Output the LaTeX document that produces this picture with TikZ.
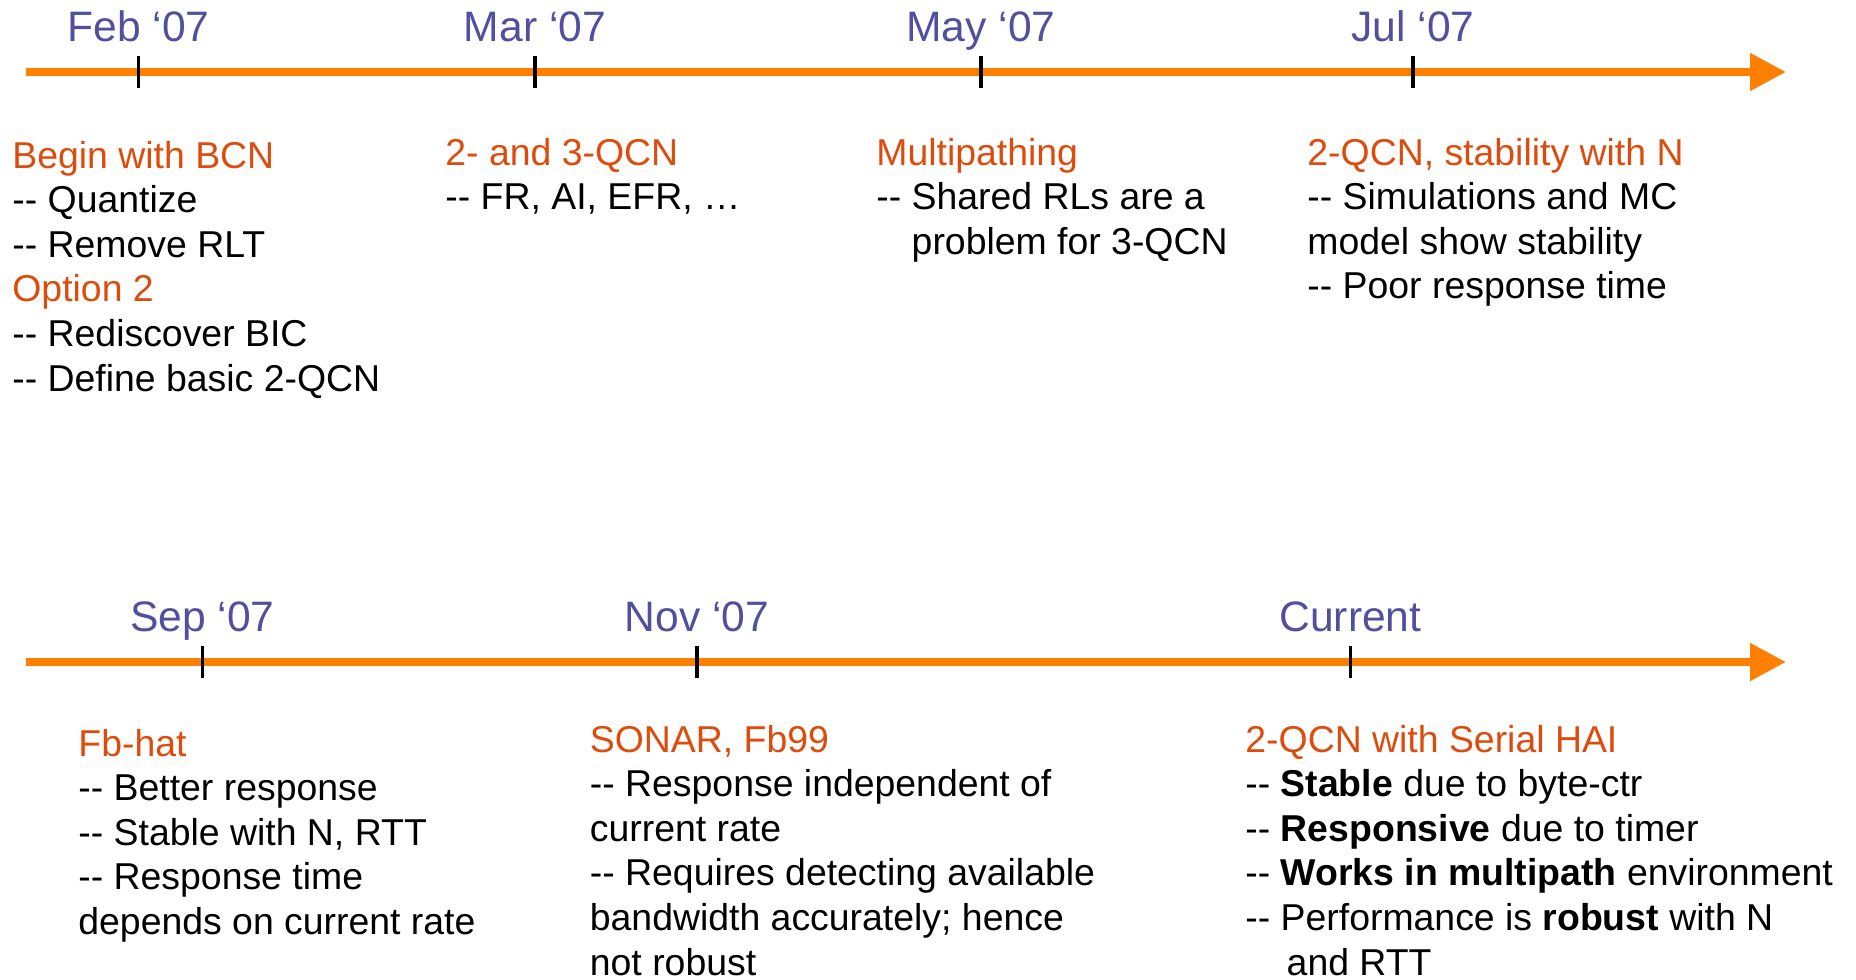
\documentclass[tikz,border=0pt]{standalone}
\usepackage{fontspec}
\setmainfont{Liberation Sans}
\usetikzlibrary{arrows.meta,positioning}
\definecolor{lineorange}{RGB}{255,128,0}
\definecolor{headred}{RGB}{221,76,12}
\definecolor{datepurple}{RGB}{82,80,158}
\newcommand{\dsh}{-{}- }

\begin{document}
\begin{tikzpicture}[x=0.5pt,y=-0.5pt,
	tline/.style={draw=lineorange, line width=4pt, -{Triangle[length=18pt,width=18pt]}},
	tick/.style={fill=black, inner sep=0pt, minimum width=1.8pt, minimum height=16pt},
	date/.style={text=datepurple, font=\fontsize{21.3}{25}\selectfont, inner sep=0pt, anchor=base},
	txt/.style={font=\fontsize{18.7}{22.3}\selectfont, align=left, anchor=base west, inner sep=0pt}]
\path[use as bounding box] (0,0) rectangle (1856,979);

\coordinate (s1) at (26,72);
\coordinate (e1) at (1786,72);
\coordinate (s2) at (26,662);
\coordinate (e2) at (1786,662);
\draw[tline] (s1) -- (e1);
\draw[tline] (s2) -- (e2);

\node[tick] (tfeb) at (138.5,72) {};
\node[tick] (tmar) at (535,72) {};
\node[tick] (tmay) at (981,72) {};
\node[tick] (tjul) at (1413,72) {};
\node[tick] (tsep) at (202.5,662) {};
\node[tick] (tnov) at (697,662) {};
\node[tick] (tcur) at (1350.5,662) {};

\node[date, above=7pt of tfeb, anchor=base] (feb) {Feb ‘07};
\node[date, above=7pt of tmar, anchor=base] (mar) {Mar ‘07};
\node[date, above=7pt of tmay, anchor=base] (may) {May ‘07};
\node[date, above=7pt of tjul, anchor=base] (jul) {Jul ‘07};
\node[date, above=7pt of tsep, anchor=base] (sep) {Sep ‘07};
\node[date, above=7pt of tnov, anchor=base] (nov) {Nov ‘07};
\node[date, above=7pt of tcur, anchor=base] (cur) {Current};

% anchors sit on the baseline of the last line
\node[txt] (bcn) at (12,391) {\textcolor{headred}{Begin with BCN}\\ \dsh Quantize\\ \dsh Remove RLT\\
	\textcolor{headred}{Option 2}\\ \dsh Rediscover BIC\\ \dsh Define basic 2-QCN};
\node[txt] (qcn) at (445,209.6) {\textcolor{headred}{2- and 3-QCN}\\ \dsh FR, AI, EFR, …};
\node[txt] (mpath) at (876,254.2) {\textcolor{headred}{Multipathing}\\ \dsh Shared RLs are a\\
	\phantom{\dsh}problem for 3-QCN};
\node[txt] (stab) at (1307,298.8) {\textcolor{headred}{2-QCN, stability with N}\\ \dsh Simulations and MC\\
	model show stability\\ \dsh Poor response time};

\node[txt] (fbhat) at (78,934.4) {\textcolor{headred}{Fb-hat}\\ \dsh Better response\\ \dsh Stable with N, RTT\\
	\dsh Response time\\ depends on current rate};
\node[txt] (sonar) at (589.5,975) {\textcolor{headred}{SONAR, Fb99}\\ \dsh Response independent of\\ current rate\\
	\dsh Requires detecting available\\ bandwidth accurately; hence\\ not robust};
\node[txt] (hai) at (1245,975) {\textcolor{headred}{2-QCN with Serial HAI}\\ \dsh \textbf{Stable} due to byte-ctr\\
	\dsh \textbf{Responsive} due to timer\\ \dsh \textbf{Works in multipath} environment\\
	\dsh Performance is \textbf{robust} with N\\ \phantom{\dsh}\hspace{3pt}and RTT};
\end{tikzpicture}
\end{document}
